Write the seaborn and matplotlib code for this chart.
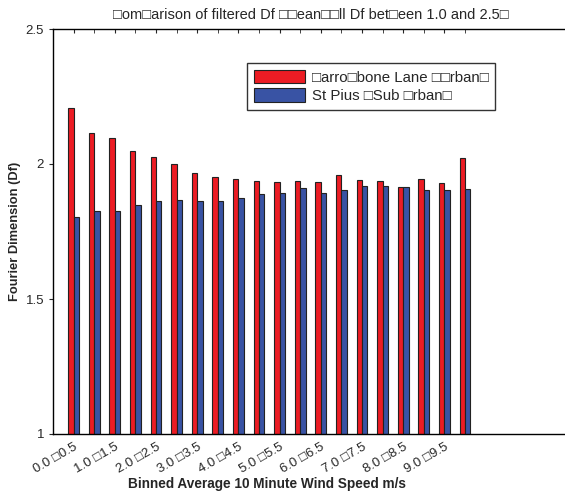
import pandas as pd
import matplotlib
matplotlib.use("Agg")
import matplotlib.pyplot as plt
import seaborn as sns

# Data
bins = ["0.0 \u25a10.5", "0.5-1.0", "1.0 \u25a11.5", "1.5-2.0", "2.0 \u25a12.5", "2.5-3.0",
        "3.0 \u25a13.5", "3.5-4.0", "4.0 \u25a14.5", "4.5-5.0", "5.0 \u25a15.5", "5.5-6.0",
        "6.0 \u25a16.5", "6.5-7.0", "7.0 \u25a17.5", "7.5-8.0", "8.0 \u25a18.5", "8.5-9.0",
        "9.0 \u25a19.5", "9.5-10.0"]
urban = [2.206, 2.114, 2.095, 2.047, 2.025, 1.999, 1.968, 1.951, 1.946, 1.938,
         1.932, 1.937, 1.932, 1.959, 1.942, 1.937, 1.915, 1.946, 1.928, 2.021]
suburban = [1.805, 1.827, 1.827, 1.849, 1.863, 1.868, 1.863, 1.863, 1.875, 1.889,
            1.894, 1.910, 1.894, 1.903, 1.920, 1.920, 1.915, 1.903, 1.903, 1.906]
series_names = ["\u25a1arro\u25a1bone Lane \u25a1\u25a1rban\u25a1",
                "St Pius \u25a1Sub \u25a1rban\u25a1"]
tick_labels = ["0.0 \u25a10.5", "1.0 \u25a11.5", "2.0 \u25a12.5", "3.0 \u25a13.5", "4.0 \u25a14.5",
               "5.0 \u25a15.5", "6.0 \u25a16.5", "7.0 \u25a17.5", "8.0 \u25a18.5", "9.0 \u25a19.5"]
title = "\u25a1om\u25a1arison of filtered Df \u25a1\u25a1ean\u25a1\u25a1ll Df bet\u25a1een 1.0 and 2.5\u25a1"

df = pd.DataFrame({
    "bin": bins * 2,
    "Df": urban + suburban,
    "site": [series_names[0]] * len(bins) + [series_names[1]] * len(bins),
})

sns.set_style("white")
plt.rcParams["font.family"] = ["Liberation Sans", "DejaVu Sans"]

fig = plt.figure(figsize=(5.65, 4.92), dpi=100)
ax = fig.add_axes([53 / 565, 1 - 434 / 492, 515 / 565, 405 / 492])

sns.barplot(data=df, x="bin", y="Df", hue="site", order=bins, hue_order=series_names,
            palette=["#ec1c24", "#3953a4"], width=0.52, gap=0, ax=ax,
            edgecolor="#222222", linewidth=0.8, saturation=1, errorbar=None)

ax.set_xlim(-1, 24)
ax.set_ylim(1, 2.5)
ax.set_yticks([1, 1.5, 2, 2.5])
ax.set_yticklabels(["1", "1.5", "2", "2.5"], fontsize=9.5)
ax.set_xticks(range(0, 20, 2))
ax.set_xticklabels(tick_labels, rotation=30, ha="right", rotation_mode="anchor", fontsize=9.5)
ax.tick_params(axis="x", direction="in", length=3, top=True, bottom=True, pad=5)
ax.tick_params(axis="y", direction="out", length=3, left=True, right=False)
ax.set_xticks(range(20), minor=True)
ax.tick_params(axis="x", which="minor", direction="in", length=3, top=True, bottom=True)

for s in ax.spines.values():
    s.set_visible(True)
    s.set_color("black")
    s.set_linewidth(1.0)

ax.set_title(title, fontsize=10.5, pad=7)
ax.set_xlabel("Binned Average 10 Minute Wind Speed m/s", fontsize=9.8, fontweight="bold")
ax.xaxis.set_label_coords((267 - 53) / 515, -0.105)
ax.set_ylabel("Fourier Dimension (Df)", fontsize=9.3, fontweight="bold")
ax.yaxis.set_label_coords((21 - 53) / 515, 0.5)

leg = ax.legend(loc="upper left", bbox_to_anchor=(247 / 565, 1 - 63 / 492),
                bbox_transform=fig.transFigure, fontsize=10.8, frameon=True,
                fancybox=False, handlelength=3.4, handleheight=1.0,
                borderpad=0.45, labelspacing=0.25, handletextpad=0.45, borderaxespad=0)
leg.get_frame().set_edgecolor("black")
leg.get_frame().set_linewidth(1.0)

fig.savefig("out.png", dpi=100)
